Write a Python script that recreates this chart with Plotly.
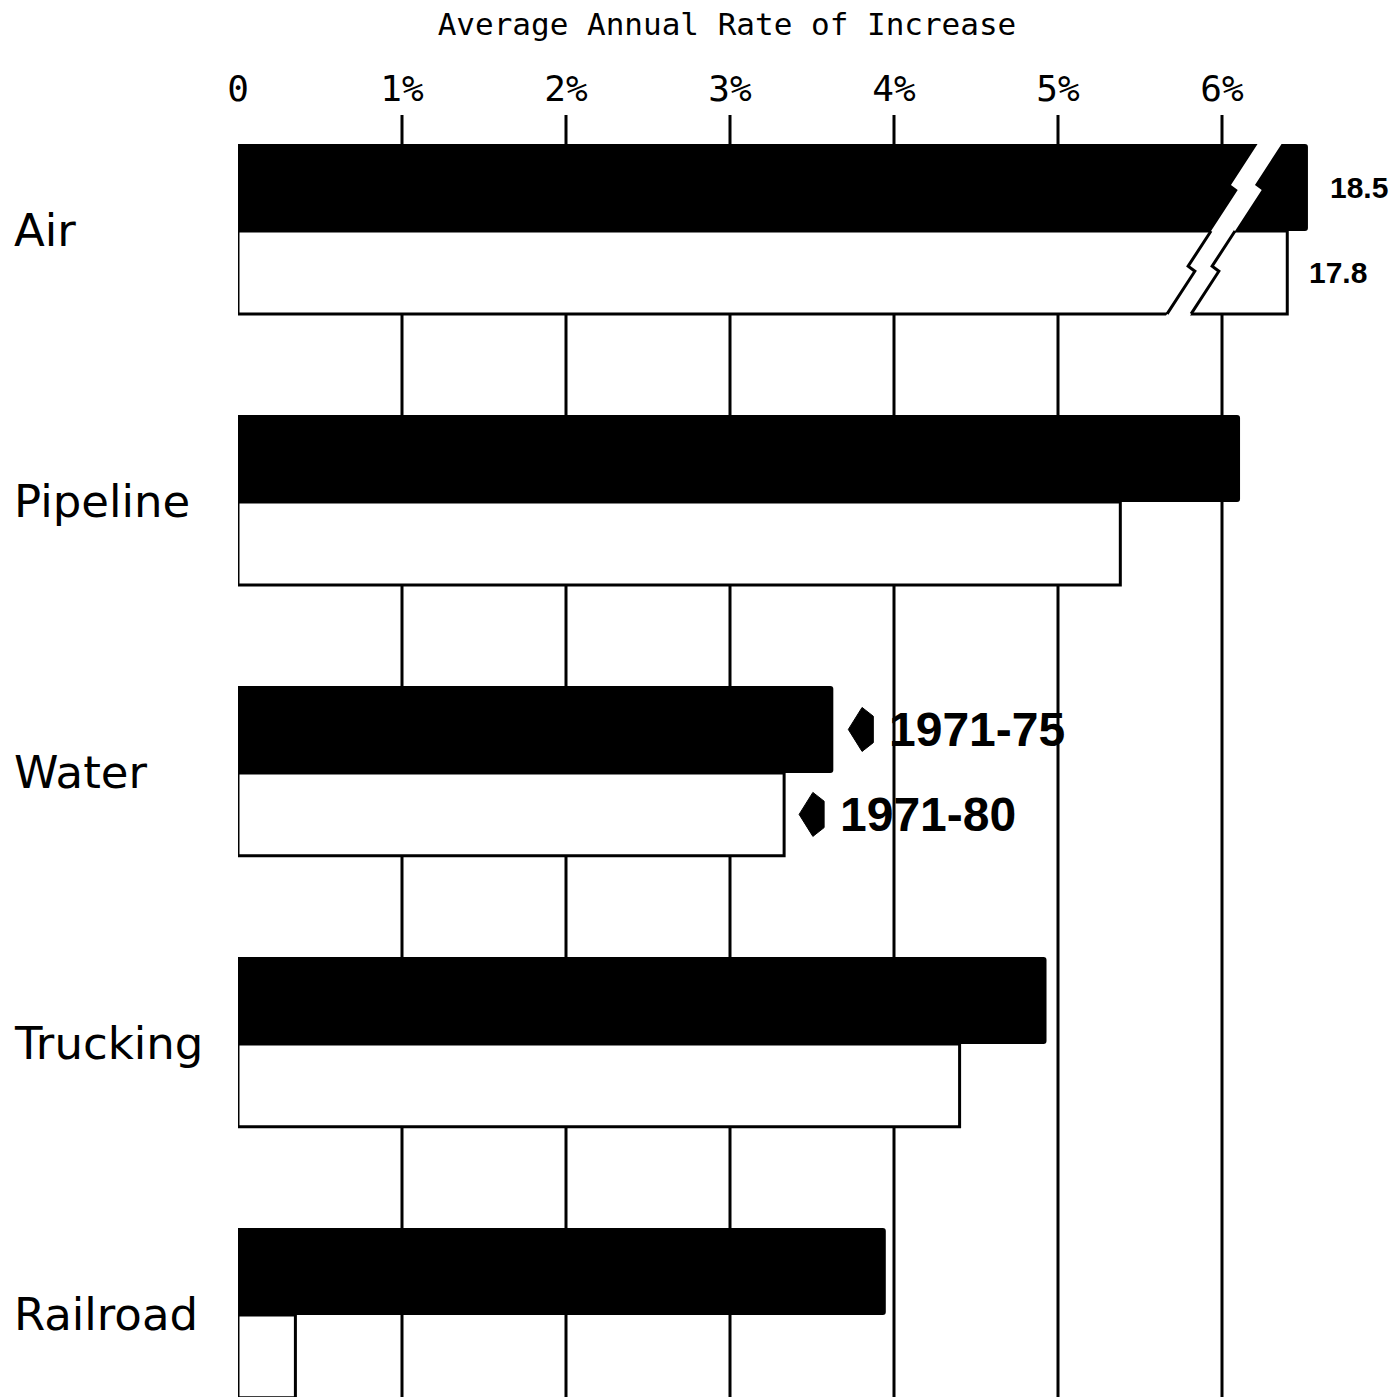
import plotly.graph_objects as go

# ---- data -------------------------------------------------------------
modes = ["Air", "Pipeline", "Water", "Trucking", "Railroad"]
rate_1971_75 = [18.5, 6.11, 3.63, 4.93, 3.95]   # average annual % increase
rate_1971_80 = [17.8, 5.38, 3.33, 4.40, 0.35]
tick_values = [0, 1, 2, 3, 4, 5, 6]
tick_labels = ["0", "1%", "2%", "3%", "4%", "5%", "6%"]
period_labels = ["1971-75", "1971-80"]
title_text = "Average Annual Rate of Increase"

# ---- broken scale: values past the axis end sit on a compressed stub ---
AXIS_MAX = 7.0
BREAK_AT = 6.2
BREAK_VALUE = 16.7
COMPRESS = 0.18


def display(v):
    return v if v <= BREAK_AT else BREAK_AT + (v - BREAK_VALUE) * COMPRESS


# ---- geometry (x in %, y in group units) -------------------------------
W, H = 1399, 1397
M_L, M_R, M_T, M_B = 238, 13, 115, 0
PX_PER_X = (W - M_L - M_R) / AXIS_MAX
Y_TOP, Y_BOT = -0.428, 4.303
PX_PER_Y = (H - M_T - M_B) / (Y_BOT - Y_TOP)
BLACK_H = 0.321
WHITE_H = 0.306

black_y = [i - BLACK_H / 2 for i in range(len(modes))]
white_y = [i + WHITE_H / 2 for i in range(len(modes))]

fig = go.Figure()

# vertical grid lines behind the bars
for t in tick_values[1:]:
    fig.add_shape(type="line", xref="x", yref="paper", x0=t, x1=t, y0=0, y1=1,
                  line=dict(color="black", width=3), layer="below")

fig.add_trace(go.Bar(
    y=black_y, x=[display(v) for v in rate_1971_75], orientation="h",
    width=BLACK_H, marker=dict(color="black", line=dict(width=0), cornerradius=3),
    name=period_labels[0], hoverinfo="skip"))
fig.add_trace(go.Bar(
    y=white_y, x=[display(v) for v in rate_1971_80], orientation="h",
    width=WHITE_H, marker=dict(color="white", line=dict(color="black", width=3)),
    name=period_labels[1], hoverinfo="skip"))

# ---- lightning-bolt break across bars that run past the axis -----------
SLOPE = -0.65 * PX_PER_Y / PX_PER_X     # % per group unit
GAP = 24 / PX_PER_X
JOG_X = 10 / PX_PER_X
JOG_Y = 5 / PX_PER_Y
ZIGS = [-0.17, 0.13]
BREAK_TOP_X = 6.29                      # gap centre at the top of the black bar


def edge_x(x_ref, v):
    x = x_ref + SLOPE * (v + BLACK_H)
    for z in ZIGS:
        frac = min(max((v - z) / JOG_Y, 0.0), 1.0)
        x += JOG_X * frac
    return x


def edge_points(x_ref, v0, v1):
    vs = [v0] + [p for z in ZIGS for p in (z, z + JOG_Y) if v0 < p < v1] + [v1]
    return [edge_x(x_ref, v) for v in vs], vs


for i, (a, b) in enumerate(zip(rate_1971_75, rate_1971_80)):
    if max(a, b) <= BREAK_AT:
        continue
    base = i
    left_ref = BREAK_TOP_X - GAP / 2
    right_ref = BREAK_TOP_X + GAP / 2
    pad = 3 / PX_PER_Y
    lx, lv = edge_points(left_ref, base - BLACK_H - pad, base + WHITE_H + pad)
    rx, rv = edge_points(right_ref, base - BLACK_H - pad, base + WHITE_H + pad)
    fig.add_trace(go.Scatter(
        x=lx + rx[::-1], y=lv + rv[::-1], fill="toself", fillcolor="white",
        mode="lines", line=dict(width=0), hoverinfo="skip", showlegend=False))
    for ref in (left_ref, right_ref):
        ex, ev = edge_points(ref, base, base + WHITE_H)
        fig.add_trace(go.Scatter(
            x=ex, y=ev, mode="lines", line=dict(color="black", width=3),
            hoverinfo="skip", showlegend=False))
    for v, yc in ((a, black_y[i]), (b, white_y[i])):
        fig.add_annotation(
            x=display(v) + 0.12, y=yc, xref="x", yref="y", text=f"{v}",
            showarrow=False, xanchor="left", yanchor="middle",
            font=dict(family="Liberation Sans", size=30, color="black", weight="bold"))

# ---- period keys pointing at the Water bars ----------------------------
key_idx = modes.index("Water")
ARROW_W = 25 / PX_PER_X
ARROW_H = 44 / PX_PER_Y
for vals, ys, label in ((rate_1971_75, black_y, period_labels[0]),
                        (rate_1971_80, white_y, period_labels[1])):
    tip = vals[key_idx] + 15 / PX_PER_X
    yc = ys[key_idx]
    fig.add_trace(go.Scatter(
        x=[tip, tip + 0.55 * ARROW_W, tip + ARROW_W, tip + ARROW_W, tip + 0.55 * ARROW_W, tip],
        y=[yc, yc - ARROW_H / 2, yc - 0.3 * ARROW_H, yc + 0.3 * ARROW_H, yc + ARROW_H / 2, yc],
        fill="toself", fillcolor="black", mode="lines", line=dict(color="black", width=1),
        hoverinfo="skip", showlegend=False))
    fig.add_annotation(
        x=vals[key_idx] + 54 / PX_PER_X, y=yc, xref="x", yref="y", text=label,
        showarrow=False, xanchor="left", yanchor="middle",
        font=dict(family="Liberation Sans", size=48, color="black", weight="bold"))

# ---- category labels ---------------------------------------------------
for i, m in enumerate(modes):
    fig.add_annotation(
        x=(12 - M_L) / (W - M_L - M_R), y=i, xref="paper", yref="y", text=m,
        showarrow=False, xanchor="left", yanchor="middle",
        font=dict(family="DejaVu Sans", size=45, color="black"))

fig.update_layout(
    width=W, height=H,
    margin=dict(l=M_L, r=M_R, t=M_T, b=M_B, pad=0),
    paper_bgcolor="white", plot_bgcolor="white",
    barmode="overlay", showlegend=False,
    title=dict(text=title_text, x=727 / W, xanchor="center", xref="container",
               y=1 - 24 / H, yanchor="middle", yref="container",
               font=dict(family="DejaVu Sans Mono", size=31, color="black")),
    xaxis=dict(range=[0, AXIS_MAX], side="top", tickvals=tick_values, ticktext=tick_labels,
               showgrid=False, zeroline=False, showline=False, ticks="",
               ticklabelstandoff=6,
               tickfont=dict(family="DejaVu Sans Mono", size=36, color="black"),
               fixedrange=True),
    yaxis=dict(range=[Y_BOT, Y_TOP], showticklabels=False, showgrid=False,
               zeroline=False, showline=False, fixedrange=True),
)

fig.write_html("out.html", config={"displayModeBar": False})
